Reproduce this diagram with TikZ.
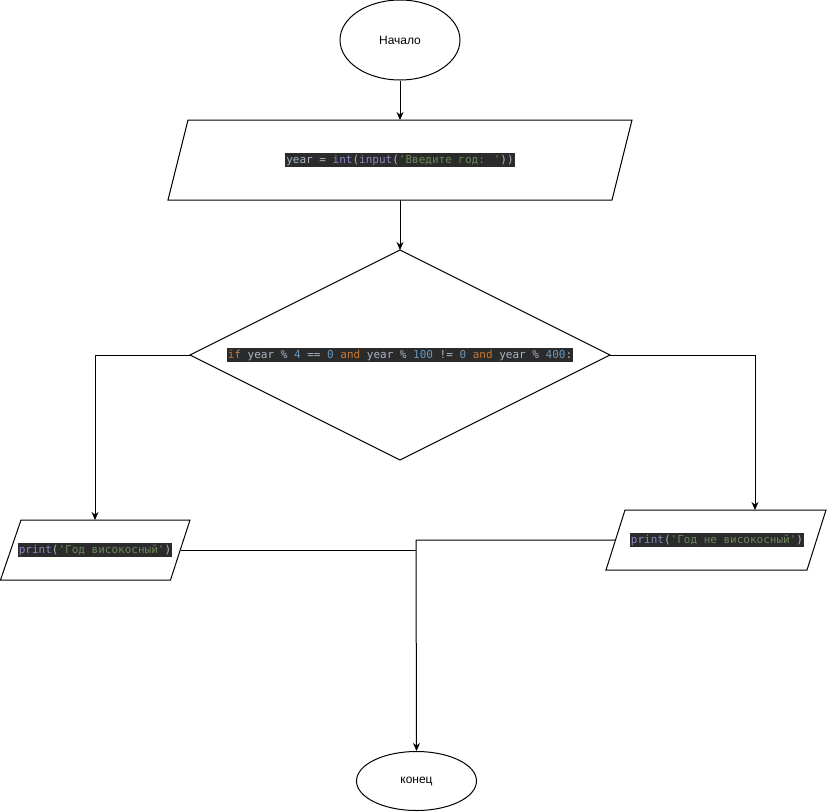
\documentclass[tikz,border=0pt]{standalone}
\usepackage{fontspec}
\usetikzlibrary{shapes.geometric,arrows.meta}
\newfontfamily\codefont{DejaVu Sans Mono}
\newfontfamily\labelfont{Liberation Sans}
\definecolor{codebg}{HTML}{2B2B2B}
\definecolor{codefg}{HTML}{A9B7C6}
\definecolor{kw}{HTML}{CC7832}
\definecolor{num}{HTML}{6897BB}
\definecolor{str}{HTML}{6A8759}
\definecolor{bi}{HTML}{8888C6}
\newcommand\q{\char39\relax}
\tikzset{
  shapeline/.style={draw=black, line width=1pt, line join=miter},
  conn/.style={draw=black, line width=1pt},
  arr/.style={conn, -{Stealth[length=8pt,width=7pt]}},
  code/.style={fill=codebg, text=codefg, font=\codefont\fontsize{11}{13}\selectfont, inner xsep=1pt, inner ysep=2pt},
  term/.style={ellipse, draw=black, line width=1pt, inner sep=0pt, font=\labelfont\fontsize{12}{14}\selectfont}
}
\begin{document}
\begin{tikzpicture}[x=1pt,y=-1pt]
\useasboundingbox (0,0) rectangle (827,811);
% terminals
\node[term, minimum width=120pt, minimum height=80pt] (start) at (400,40) {Начало};
\node[term, minimum width=120pt, minimum height=59pt] (end) at (416.5,781) {конец};
% input parallelogram
\draw[shapeline] (188,120) -- (632,120) -- (612,200) -- (168,200) -- cycle;
\coordinate (inTop) at (400,120);
\coordinate (inBot) at (400,200);
\node[code] (incode) at (400,160) {year = \textcolor{bi}{int}(\textcolor{bi}{input}(\textcolor{str}{\q Введите год: \q}))};
% decision diamond
\draw[shapeline] (400,250) -- (610,355) -- (400,460) -- (190,355) -- cycle;
\coordinate (dTop) at (400,250);
\coordinate (dLeft) at (190,355);
\coordinate (dRight) at (610,355);
\node[code] (dcode) at (400,355) {\textcolor{kw}{if} year \% \textcolor{num}{4} == \textcolor{num}{0} \textcolor{kw}{and} year \% \textcolor{num}{100} != \textcolor{num}{0} \textcolor{kw}{and} year \% \textcolor{num}{400}:};
% left output
\draw[shapeline] (21,520) -- (190,520) -- (170.5,580) -- (0.5,580) -- cycle;
\coordinate (lTop) at (95,520);
\coordinate (lRight) at (180.5,550);
\node[code] (lcode) at (95,550) {\textcolor{bi}{print}(\textcolor{str}{\q Год високосный\q})};
% right output
\draw[shapeline] (625,510) -- (826,510) -- (807,570) -- (606,570) -- cycle;
\coordinate (rTop) at (755,510);
\coordinate (rLeft) at (615.5,540);
\node[code] (rcode) at (717,540) {\textcolor{bi}{print}(\textcolor{str}{\q Год не високосный\q})};
% junction
\coordinate (jTop) at (416,540);
\coordinate (jMid) at (416,550);
% connectors
\draw[arr] (start.south) -- (inTop);
\draw[arr] (inBot) -- (dTop);
\draw[arr] (dLeft) -- (95,355) -- (lTop);
\draw[arr] (dRight) -- (755,355) -- (rTop);
\draw[conn] (lRight) -- (jMid);
\draw[arr] (rLeft) -- (jTop) -- (end.north);
\end{tikzpicture}
\end{document}
